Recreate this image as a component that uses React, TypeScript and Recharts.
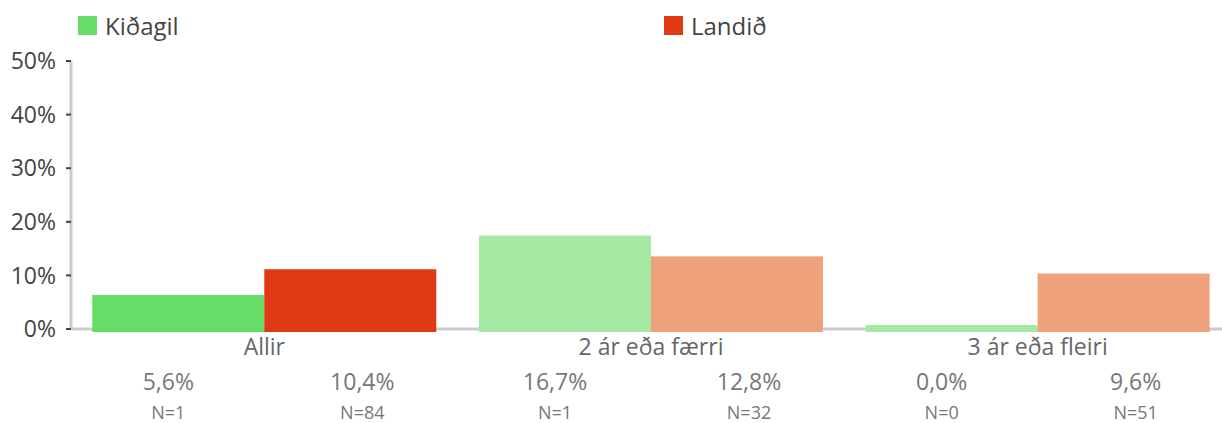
import React from "react";
import { Bar, BarChart, ReferenceLine, XAxis, YAxis } from "recharts";

const categories = ["Allir", "2 ár eða færri", "3 ár eða fleiri"];
const seriesNames = ["Kiðagil", "Landið"];
const kidagil = [5.6, 16.7, 0.0];
const landid = [10.4, 12.8, 9.6];
const kidagilN = [1, 1, 0];
const landidN = [84, 32, 51];
const yTicks = [0, 10, 20, 30, 40, 50];

const kidagilColors = ["#66dd66", "#a5e9a5", "#a5e9a5"];
const landidColors = ["#df3a14", "#eea17b", "#eea17b"];
const legendColors = ["#66dd66", "#df3a14"];

const FONT = "'Open Sans', sans-serif";

const data = categories.map((name, i) => ({
  name,
  kidagil: kidagil[i],
  landid: landid[i],
  kidagilN: kidagilN[i],
  landidN: landidN[i],
}));

const pct = (v: number) => v.toFixed(1).replace(".", ",") + "%";

function CategoryTick(props: any) {
  const { x, payload, index } = props;
  const row = data[index] ?? data.find((d) => d.name === payload.value);
  const left = x - 96;
  const right = x + 98;
  return (
    <g fontFamily={FONT}>
      <text x={x} y={355} textAnchor="middle" fontSize={23} fill="#666">
        {payload.value}
      </text>
      <text x={left} y={390} textAnchor="middle" fontSize={23} fill="#777">
        {pct(row.kidagil)}
      </text>
      <text x={right} y={390} textAnchor="middle" fontSize={23} fill="#777">
        {pct(row.landid)}
      </text>
      <text x={left} y={419} textAnchor="middle" fontSize={18} fill="#777">
        N={row.kidagilN}
      </text>
      <text x={right} y={419} textAnchor="middle" fontSize={18} fill="#777">
        N={row.landidN}
      </text>
    </g>
  );
}

// bars in the original sit a few px proud of the baseline at both ends
function makeShape(colors: string[]) {
  return (props: any) => {
    const { x, y, width, height, index } = props;
    const h = Math.max(height || 0, 0);
    return <rect x={x} y={y - 4} width={width} height={h + 7} fill={colors[index]} />;
  };
}

export default function App() {
  return (
    <div style={{ position: "absolute", left: 0, top: 0, width: 1222, height: 423, overflow: "hidden", background: "#fff" }}>
      <div style={{ position: "absolute", top: 0, left: 0, width: 1222, height: 50, fontFamily: FONT }}>
        {seriesNames.map((s, i) => (
          <div
            key={s}
            style={{ position: "absolute", left: 78 + i * 586, top: 9, display: "flex", alignItems: "center", fontSize: 24, color: "#444" }}
          >
            <span style={{ display: "inline-block", width: 19, height: 19, background: legendColors[i], marginRight: 8 }} />
            <span>{s}</span>
          </div>
        ))}
      </div>
      <BarChart
        width={1231}
        height={423}
        data={data}
        margin={{ top: 61, right: 0, bottom: 0, left: 0 }}
        barCategoryGap="5.5%"
        barGap={0}
        style={{ position: "absolute", left: 0, top: 0 }}
      >
        <XAxis
          dataKey="name"
          height={94}
          axisLine={false}
          tickLine={false}
          tick={<CategoryTick />}
          interval={0}
        />
        <YAxis
          width={71}
          domain={[0, 50]}
          ticks={yTicks}
          interval={0}
          axisLine={{ stroke: "#cccccc", strokeWidth: 3 }}
          tickLine={{ stroke: "#444", strokeWidth: 2 }}
          tickSize={5}
          tickMargin={10}
          tickFormatter={(v: number) => `${v}%`}
          tick={{ fontSize: 23, fill: "#444", fontFamily: FONT }}
        />
        <ReferenceLine y={0} stroke="#cccccc" strokeWidth={3} zIndex={0} />
        <Bar dataKey="kidagil" name={seriesNames[0]} isAnimationActive={false} shape={makeShape(kidagilColors)} />
        <Bar dataKey="landid" name={seriesNames[1]} isAnimationActive={false} shape={makeShape(landidColors)} />
      </BarChart>
    </div>
  );
}
